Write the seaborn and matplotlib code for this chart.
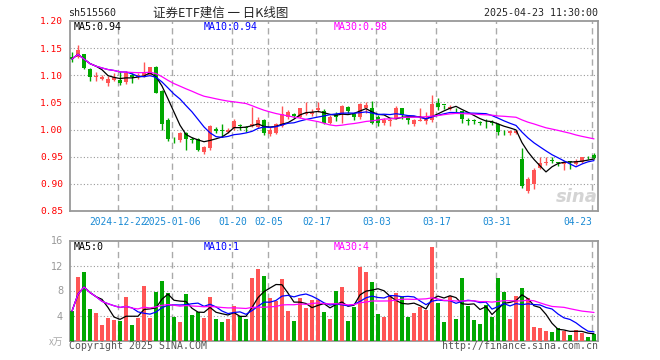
import matplotlib
matplotlib.use("Agg")
import matplotlib.pyplot as plt
import numpy as np
import pandas as pd
import seaborn as sns

# daily candles, 2024-12-11 .. 2025-04-23 (88 sessions)
opens = [1.133, 1.133, 1.139, 1.112, 1.096, 1.094, 1.086, 1.092, 1.091, 1.087,
         1.101, 1.097, 1.098, 1.101, 1.116, 1.071, 1.017, 0.985, 0.980, 0.994,
         0.982, 0.982, 0.959, 0.966, 1.001, 0.999, 0.995, 1.002, 1.008, 1.005,
         1.007, 1.005, 1.017, 0.992, 0.993, 1.006, 1.023, 1.028, 1.023, 1.029,
         1.029, 1.036, 1.035, 1.012, 1.028, 1.028, 1.041, 1.029, 1.023, 1.040,
         1.039, 1.023, 1.013, 1.015, 1.021, 1.039, 1.024, 1.010, 1.016, 1.016,
         1.018, 1.049, 1.046, 1.037, 1.038, 1.034, 1.017, 1.017, 1.014, 1.016,
         1.014, 1.011, 0.996, 0.994, 0.994, 0.946, 0.886, 0.900, 0.930, 0.938,
         0.944, 0.940, 0.937, 0.941, 0.937, 0.941, 0.950, 0.953]
highs = [1.143, 1.156, 1.140, 1.113, 1.106, 1.100, 1.098, 1.105, 1.108, 1.107,
         1.105, 1.104, 1.125, 1.116, 1.118, 1.072, 1.021, 0.987, 0.996, 0.995,
         0.987, 0.985, 0.970, 1.008, 1.004, 1.011, 1.003, 1.019, 1.011, 1.007,
         1.041, 1.023, 1.019, 1.004, 1.012, 1.043, 1.036, 1.031, 1.040, 1.050,
         1.038, 1.051, 1.038, 1.026, 1.032, 1.046, 1.044, 1.031, 1.049, 1.050,
         1.053, 1.026, 1.021, 1.021, 1.044, 1.040, 1.025, 1.019, 1.039, 1.032,
         1.064, 1.058, 1.046, 1.046, 1.040, 1.035, 1.021, 1.020, 1.016, 1.019,
         1.017, 1.013, 0.999, 0.999, 0.999, 0.966, 0.912, 0.930, 0.949, 0.949,
         0.949, 0.940, 0.943, 0.943, 0.946, 0.950, 0.952, 0.956]
lows = [1.125, 1.131, 1.111, 1.090, 1.089, 1.091, 1.081, 1.089, 1.083, 1.084,
        1.086, 1.094, 1.097, 1.100, 1.067, 1.000, 0.979, 0.975, 0.978, 0.962,
        0.976, 0.960, 0.955, 0.963, 0.994, 0.987, 0.993, 1.000, 1.000, 0.996,
        1.005, 1.002, 0.990, 0.989, 0.991, 1.004, 1.020, 1.022, 1.021, 1.027,
        1.025, 1.033, 1.010, 1.010, 1.015, 1.013, 1.031, 1.018, 1.020, 1.030,
        1.010, 1.006, 1.009, 1.007, 1.019, 1.020, 1.010, 1.006, 1.015, 1.011,
        1.014, 1.036, 1.037, 1.036, 1.030, 1.012, 1.008, 1.010, 1.009, 1.003,
        1.008, 0.990, 0.990, 0.990, 0.991, 0.893, 0.884, 0.890, 0.928, 0.935,
        0.938, 0.932, 0.925, 0.928, 0.934, 0.939, 0.946, 0.945]
closes = [1.130, 1.147, 1.113, 1.096, 1.098, 1.097, 1.093, 1.097, 1.085, 1.104,
          1.097, 1.101, 1.106, 1.115, 1.068, 1.011, 0.983, 0.984, 0.994, 0.983,
          0.981, 0.963, 0.967, 1.006, 0.998, 0.998, 1.000, 1.016, 1.006, 1.003,
          1.010, 1.017, 0.993, 1.000, 1.010, 1.029, 1.032, 1.025, 1.039, 1.031,
          1.033, 1.039, 1.013, 1.024, 1.023, 1.043, 1.035, 1.023, 1.047, 1.045,
          1.013, 1.012, 1.018, 1.017, 1.039, 1.027, 1.017, 1.018, 1.018, 1.019,
          1.048, 1.042, 1.045, 1.042, 1.037, 1.019, 1.016, 1.016, 1.013, 1.015,
          1.013, 0.995, 0.995, 0.997, 0.997, 0.896, 0.909, 0.926, 0.938, 0.941,
          0.943, 0.939, 0.938, 0.940, 0.943, 0.949, 0.949, 0.948]
# volume, 10k lots
volumes = [4.7, 10.1, 10.9, 5.0, 4.4, 2.5, 3.6, 3.3, 3.1, 6.9,
           2.5, 3.6, 8.7, 3.6, 7.7, 9.5, 7.6, 3.8, 2.9, 7.4,
           4.1, 4.5, 3.6, 6.9, 3.5, 2.9, 3.5, 5.5, 3.9, 3.5,
           10.0, 11.4, 10.3, 6.8, 6.3, 9.8, 4.7, 3.1, 6.8, 5.2,
           6.5, 6.5, 4.5, 3.4, 7.9, 8.5, 3.1, 5.3, 11.7, 10.9,
           9.3, 4.2, 3.7, 7.3, 7.6, 6.9, 3.7, 4.4, 5.3, 4.9,
           14.9, 6.0, 2.9, 7.1, 3.4, 10.0, 5.5, 3.3, 2.6, 5.7,
           3.7, 10.0, 7.7, 3.4, 7.1, 8.4, 6.8, 2.1, 2.0, 1.6,
           1.3, 2.0, 1.5, 0.9, 1.7, 1.2, 0.6, 1.0]

tick_labels = ["2024-12-22", "2025-01-06", "01-20", "02-05", "02-17",
               "03-03", "03-17", "03-31", "04-23"]
tick_index = [8, 17, 27, 33, 41, 51, 61, 71, 87]

RED = "#ff5555"
GREEN = "#00a800"
GRID = "#aaaaaa"
FRAME = "#999999"

sns.set_style("white")
plt.rcParams["font.family"] = ["DejaVu Sans Mono", "Noto Sans CJK SC"]

o = np.array(opens)
h = np.array(highs)
l = np.array(lows)
c = np.array(closes)
idx = np.arange(len(c))
up = c >= o
colors = np.where(up, RED, GREEN)

W, H = 660, 360
fig = plt.figure(figsize=(6.6, 3.6), dpi=100)


def fx(px):
    return px / W


def fy(py):
    return 1 - py / H


ax = fig.add_axes([fx(70), fy(211), 528 / W, 190 / H])
axv = fig.add_axes([fx(70), fy(340.5), 528 / W, 100 / H])

# candles
ax.vlines(idx, l, h, colors=colors, lw=1.0, zorder=3)
ax.bar(idx, np.maximum(np.abs(c - o), 0.0012), bottom=np.minimum(o, c),
       width=0.8, color=colors, linewidth=0, zorder=3)

close = pd.Series(c)
for n, col in [(5, "black"), (10, "blue"), (30, "#ff00ff")]:
    sns.lineplot(x=idx, y=close.rolling(n, min_periods=1).mean(), ax=ax,
                 color=col, lw=0.9, zorder=4)

# volume
df = pd.DataFrame({"k": idx, "vol": volumes, "dir": np.where(up, "up", "down")})
sns.barplot(data=df, x="k", y="vol", hue="dir", palette={"up": RED, "down": GREEN},
            native_scale=True, width=0.8, dodge=False, saturation=1,
            errorbar=None, legend=False, linewidth=0, ax=axv, zorder=3)
vol = pd.Series(volumes)
for n, col in [(5, "black"), (10, "blue"), (30, "#ff00ff")]:
    sns.lineplot(x=idx, y=vol.rolling(n, min_periods=1).mean(), ax=axv,
                 color=col, lw=0.9, zorder=4)

xmin, xmax = -0.333, 87.667
grid_x = [k - 0.28 for k in tick_index]
for a in (ax, axv):
    a.set_xlim(xmin, xmax)
    a.set_xlabel("")
    a.set_ylabel("")
    for gx in grid_x:
        a.axvline(gx, color=GRID, lw=1.0, ls=(0, (4.5, 3)), zorder=1)
    for s in a.spines.values():
        s.set_color(FRAME)
        s.set_linewidth(1.3)

ax.set_ylim(0.85, 1.20)
for yv in [0.90, 0.95, 1.00, 1.05, 1.10, 1.15]:
    ax.axhline(yv, color=FRAME, lw=0.8, ls=(0, (1, 2)), zorder=1)
pticks = [0.85, 0.90, 0.95, 1.00, 1.05, 1.10, 1.15, 1.20]
ax.set_yticks(pticks)
ax.set_yticklabels([f"{v:.2f}" for v in pticks])
ax.tick_params(axis="y", length=0, pad=5, labelcolor="#ff0000", labelsize=6.8)
ax.set_xticks(grid_x)
ax.set_xticklabels(tick_labels)
ax.tick_params(axis="x", length=0, pad=4, labelcolor="#1a8ad4", labelsize=6.9)
ax.get_xticklabels()[-1].set_ha("right")

axv.set_ylim(0, 16)
for yv in [4, 8, 12]:
    axv.axhline(yv, color=FRAME, lw=0.8, ls=(0, (1, 2)), zorder=1)
axv.set_yticks([4, 8, 12, 16])
axv.set_yticklabels(["4", "8", "12", "16"], family="DejaVu Sans")
axv.tick_params(axis="y", length=0, pad=5, labelcolor="#999999", labelsize=7)
axv.set_xticks([])

# header
fig.text(fx(68), fy(13), "sh515560", ha="left", va="center", fontsize=7.2)
fig.text(fx(221), fy(13), "证券ETF建信 一 日K线图", ha="center", va="center",
         fontsize=9, family=["Noto Sans CJK SC", "DejaVu Sans"])
fig.text(fx(598), fy(13), "2025-04-23 11:30:00", ha="right", va="center", fontsize=7.2)

for x, s, col in [(74, "MA5:0.94", "black"), (204, "MA10:0.94", "blue"),
                  (334, "MA30:0.98", "#ff00ff")]:
    fig.text(fx(x), fy(27), s, color=col, ha="left", va="center", fontsize=7.2)
for x, s, col in [(74, "MA5:0", "black"), (204, "MA10:1", "blue"),
                  (334, "MA30:4", "#ff00ff")]:
    fig.text(fx(x), fy(247), s, color=col, ha="left", va="center", fontsize=7.2)

fig.text(fx(577), fy(197), "sina", ha="center", va="center", fontsize=13,
         style="italic", weight="bold", color="#d4d4d4", family="DejaVu Sans")

# footer
fig.text(fx(63), fy(342), "x万", ha="right", va="center", fontsize=7,
         color="#aaaaaa", family=["Noto Sans CJK SC", "DejaVu Sans"])
fig.text(fx(69), fy(346), "Copyright 2025 SINA.COM", ha="left", va="center",
         fontsize=7.1, color="#555555")
fig.text(fx(598), fy(346), "http://finance.sina.com.cn", ha="right", va="center",
         fontsize=7.1, color="#555555")

fig.savefig("out.png", dpi=100)
